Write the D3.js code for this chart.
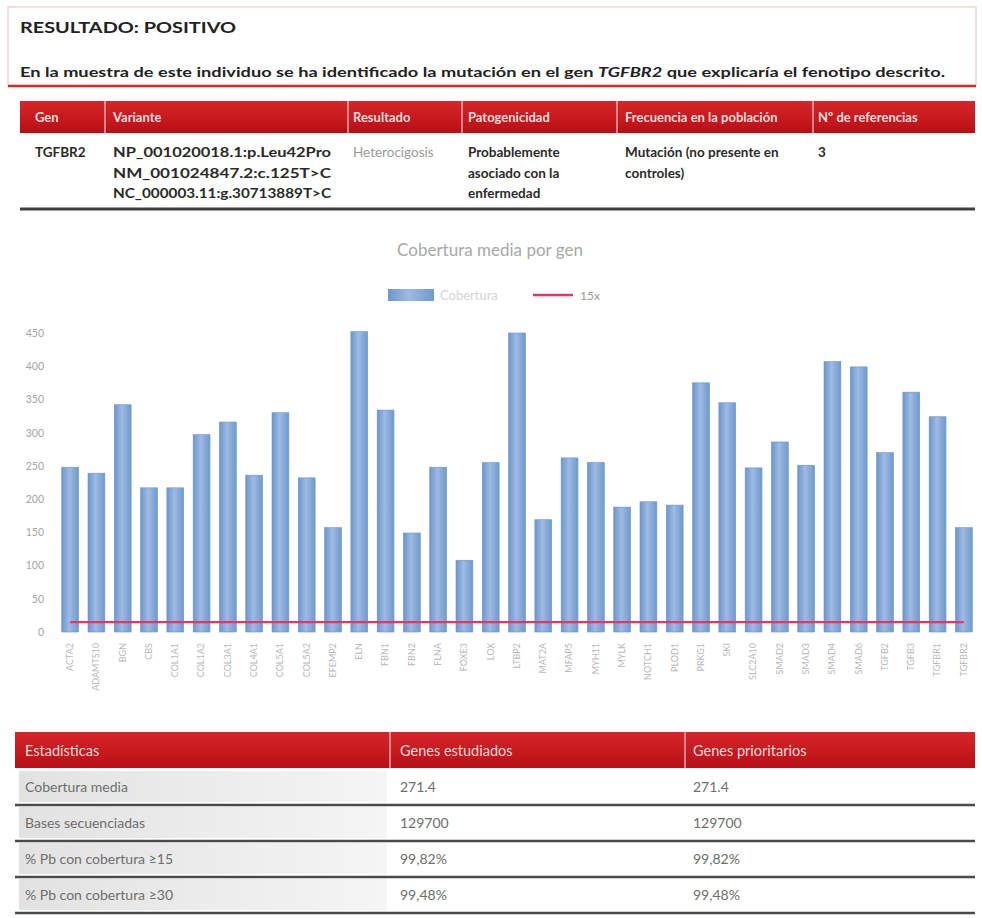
<!DOCTYPE html>
<html>
<head>
<meta charset="utf-8">
<script src="https://cdn.jsdelivr.net/npm/d3@7"></script>
<style>
  html, body { margin: 0; padding: 0; background: #ffffff; }
  svg { display: block; font-family: Lato, "Open Sans", "DejaVu Sans", sans-serif; }
</style>
</head>
<body>
<svg id="page" width="982" height="918"></svg>
<script>
// ---------------- DATA ----------------
const genes = ["ACTA2","ADAMTS10","BGN","CBS","COL1A1","COL1A2","COL3A1","COL4A1","COL5A1","COL5A2",
  "EFEMP2","ELN","FBN1","FBN2","FLNA","FOXE3","LOX","LTBP2","MAT2A","MFAP5",
  "MYH11","MYLK","NOTCH1","PLOD1","PRKG1","SKI","SLC2A10","SMAD2","SMAD3","SMAD4",
  "SMAD6","TGFB2","TGFB3","TGFBR1","TGFBR2"];
const coverage = [248,239,342,217,217,297,316,236,330,232,
  157,452,334,149,248,108,255,450,169,262,
  255,188,196,191,375,345,247,286,251,407,
  399,270,361,324,157];
const threshold = 15;
const yTicks = [0,50,100,150,200,250,300,350,400,450];
const chartTitle = "Cobertura media por gen";
const legendLabels = ["Cobertura", "15x"];

const resultTitle = "RESULTADO: POSITIVO";
const resultText = ["En la muestra de este individuo se ha identificado la mutación en el gen ", "TGFBR2", " que explicaría el fenotipo descrito."];

const variantHeaders = ["Gen","Variante","Resultado","Patogenicidad","Frecuencia en la población","Nº de referencias"];
const variantRow = [
  ["TGFBR2"],
  ["NP_001020018.1:p.Leu42Pro","NM_001024847.2:c.125T>C","NC_000003.11:g.30713889T>C"],
  ["Heterocigosis"],
  ["Probablemente","asociado con la","enfermedad"],
  ["Mutación (no presente en","controles)"],
  ["3"]
];

const statsHeaders = ["Estadísticas","Genes estudiados","Genes prioritarios"];
const statsRows = [
  ["Cobertura media","271.4","271.4"],
  ["Bases secuenciadas","129700","129700"],
  ["% Pb con cobertura ≥15","99,82%","99,82%"],
  ["% Pb con cobertura ≥30","99,48%","99,48%"]
];

// ---------------- DRAW ----------------
const svg = d3.select("#page");
const defs = svg.append("defs");

const redGrad = defs.append("linearGradient").attr("id","redGrad").attr("x1",0).attr("y1",0).attr("x2",0).attr("y2",1);
redGrad.append("stop").attr("offset","0%").attr("stop-color","#d8262a");
redGrad.append("stop").attr("offset","100%").attr("stop-color","#b70f14");

const barGrad = defs.append("linearGradient").attr("id","barGrad").attr("x1",0).attr("y1",0).attr("x2",1).attr("y2",0);
barGrad.append("stop").attr("offset","0%").attr("stop-color","#6e95c9");
barGrad.append("stop").attr("offset","45%").attr("stop-color","#9dbbe4");
barGrad.append("stop").attr("offset","100%").attr("stop-color","#7099cd");

const grayGrad = defs.append("linearGradient").attr("id","grayGrad").attr("x1",0).attr("y1",0).attr("x2",1).attr("y2",0);
grayGrad.append("stop").attr("offset","0%").attr("stop-color","#e2e2e2");
grayGrad.append("stop").attr("offset","100%").attr("stop-color","#f5f5f5");

svg.append("rect").attr("width",982).attr("height",918).attr("fill","#ffffff");

// ---- Result box ----
svg.append("rect").attr("x",8).attr("y",7).attr("width",968).attr("height",79)
  .attr("fill","#fff").attr("stroke","#e9cccc").attr("stroke-width",1.2);
svg.append("line").attr("x1",8).attr("x2",976).attr("y1",86).attr("y2",86)
  .attr("stroke","#d42a2a").attr("stroke-width",2.5);
svg.append("text").attr("x",20).attr("y",33).attr("font-size",16).attr("font-weight","bold")
  .attr("fill","#222").attr("textLength",216).attr("lengthAdjust","spacingAndGlyphs").text(resultTitle);
const rt = svg.append("text").attr("x",20).attr("y",77).attr("font-size",13.5).attr("font-weight","bold")
  .attr("fill","#222").attr("textLength",925).attr("lengthAdjust","spacingAndGlyphs");
rt.append("tspan").text(resultText[0]);
rt.append("tspan").attr("font-style","italic").text(resultText[1]);
rt.append("tspan").text(resultText[2]);

// ---- Variant table ----
const vCols = [35,113,353,468,625,818];
const vSeps = [105,348,462,617,813];
svg.append("rect").attr("x",20).attr("y",101).attr("width",955).attr("height",32).attr("fill","url(#redGrad)");
svg.selectAll(".vsep").data(vSeps).join("line")
  .attr("x1",d=>d).attr("x2",d=>d).attr("y1",101).attr("y2",133)
  .attr("stroke","#f3d0d0").attr("stroke-width",1.2);
svg.selectAll(".vhead").data(variantHeaders).join("text")
  .attr("x",(d,i)=>vCols[i]).attr("y",122).attr("font-size",13).attr("font-weight","bold")
  .attr("fill","#f8dede").text(d=>d);
variantRow.forEach((lines,i)=>{
  lines.forEach((t,j)=>{
    const el = svg.append("text").attr("x",vCols[i]).attr("y",157+j*20.5)
      .attr("font-size", i===1 ? 12.5 : 13.5).attr("font-weight", i===2 ? "normal" : "bold")
      .attr("fill", i===2 ? "#9a9a9a" : "#2a2a2a").text(t);
    if (i===1) el.attr("textLength",218).attr("lengthAdjust","spacingAndGlyphs");
  });
});
svg.append("line").attr("x1",20).attr("x2",975).attr("y1",209).attr("y2",209)
  .attr("stroke","#3e3e3e").attr("stroke-width",3);

// ---- Chart ----
const x = d3.scaleBand().domain(genes).range([57,977]).paddingInner(0.36).paddingOuter(0.18);
const y = d3.scaleLinear().domain([0,450]).range([632,333]);

svg.append("text").attr("x",490).attr("y",256).attr("text-anchor","middle")
  .attr("font-size",17).attr("fill","#a8a8a8").text(chartTitle);

// legend
svg.append("rect").attr("x",388).attr("y",289).attr("width",46).attr("height",12).attr("fill","url(#barGrad)");
svg.append("text").attr("x",440).attr("y",300).attr("font-size",13).attr("fill","#d4d4d4").text(legendLabels[0]);
svg.append("line").attr("x1",533).attr("x2",573).attr("y1",295).attr("y2",295)
  .attr("stroke","#e8326a").attr("stroke-width",2.5);
svg.append("text").attr("x",580).attr("y",300).attr("font-size",12).attr("fill","#999").text(legendLabels[1]);

// y axis labels
const yAxis = d3.axisLeft(y).tickValues(yTicks).tickSize(0).tickPadding(0);
const yg = svg.append("g").attr("transform","translate(44,0)").call(yAxis);
yg.select(".domain").remove();
yg.selectAll("text").attr("font-size",10.5).attr("fill","#a5a5a5").attr("font-family","Lato, sans-serif");

// bars
svg.selectAll(".bar").data(genes).join("rect")
  .attr("x",d=>x(d)).attr("width",x.bandwidth())
  .attr("y",(d,i)=>y(coverage[i])).attr("height",(d,i)=>y(0)-y(coverage[i]))
  .attr("fill","url(#barGrad)").attr("stroke","#6d93c6").attr("stroke-width",0.6);

// threshold line
const line = d3.line().x(d=>x(d)+x.bandwidth()/2).y(()=>y(threshold));
svg.append("path").datum(genes).attr("d",line).attr("fill","none")
  .attr("stroke","#e8326a").attr("stroke-width",2.2);

// x axis labels
const xAxis = d3.axisBottom(x).tickSize(0).tickPadding(0);
const xg = svg.append("g").attr("transform","translate(0,643)").call(xAxis);
xg.select(".domain").remove();
xg.selectAll("text").attr("font-size",9).attr("fill","#b8b8b8").attr("font-family","Lato, sans-serif")
  .attr("text-anchor","end").attr("dy","0.32em").attr("transform","rotate(-90)").attr("x",0).attr("y",0);

// ---- Stats table ----
const sCols = [25,400,693];
svg.append("rect").attr("x",15).attr("y",732).attr("width",960).attr("height",36).attr("fill","url(#redGrad)");
svg.selectAll(".ssep").data([390,685]).join("line")
  .attr("x1",d=>d).attr("x2",d=>d).attr("y1",732).attr("y2",768)
  .attr("stroke","#f3d0d0").attr("stroke-width",1.2);
svg.selectAll(".shead").data(statsHeaders).join("text")
  .attr("x",(d,i)=>sCols[i]).attr("y",756).attr("font-size",14.5)
  .attr("fill","#f8dcdc").text(d=>d);
statsRows.forEach((row,i)=>{
  const top = 769 + i*36;
  svg.append("rect").attr("x",19).attr("y",top+2).attr("width",368).attr("height",31)
    .attr("fill","url(#grayGrad)");
  row.forEach((t,j)=>{
    svg.append("text").attr("x",sCols[j]).attr("y",top+23).attr("font-size",14)
      .attr("fill","#6e6e6e").text(t);
  });
  svg.append("line").attr("x1",15).attr("x2",975).attr("y1",top+36).attr("y2",top+36)
    .attr("stroke","#4a4a4a").attr("stroke-width",2.5);
});
</script>
</body>
</html>
